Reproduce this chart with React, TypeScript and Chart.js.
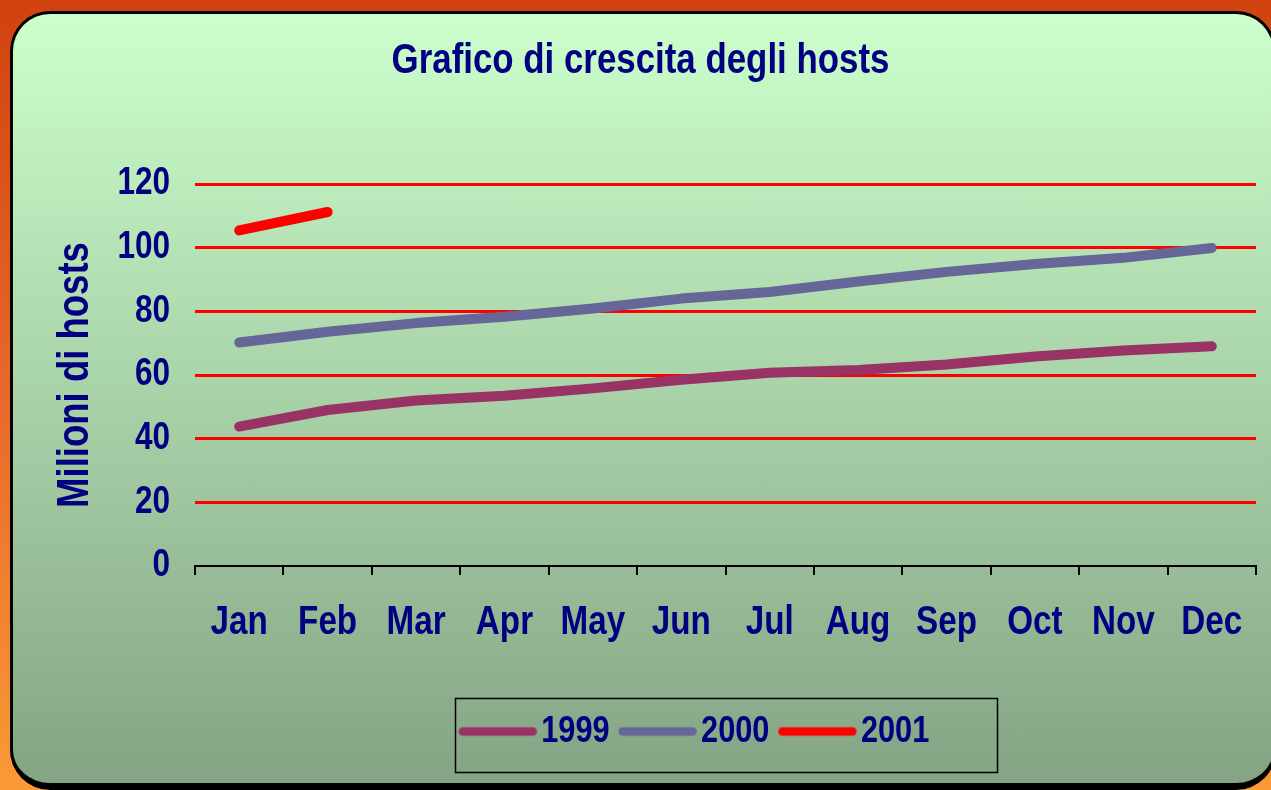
import React, { useEffect, useRef } from "react";
import { Chart, registerables } from "chart.js";

Chart.register(...registerables);

const months = ["Jan", "Feb", "Mar", "Apr", "May", "Jun", "Jul", "Aug", "Sep", "Oct", "Nov", "Dec"];
const hosts1999 = [43.8, 49, 52, 53.5, 55.8, 58.5, 60.7, 61.6, 63.3, 65.8, 67.7, 69];
const hosts2000 = [70.2, 73.6, 76.3, 78.3, 80.9, 84, 86.1, 89.4, 92.4, 94.9, 96.8, 99.9];
const hosts2001 = [105.4, 111.2, null, null, null, null, null, null, null, null, null, null];
const seriesLabels = ["1999", "2000", "2001"];
const seriesColors = ["#993366", "#666699", "#FF0000"];
const yMin = 0;
const yMax = 120;
const yStep = 20;
const titleText = "Grafico di crescita degli hosts";
const yAxisTitle = "Milioni di hosts";

const FONT = '"Liberation Sans", Arial, sans-serif';
const NAVY = "#000080";
const NARROW = 0.83;

// Arial-Narrow-like text: compress every text run horizontally.
function patchCondensed(ctx: any, sx: number) {
  const origFill = ctx.fillText.bind(ctx);
  const origMeasure = ctx.measureText.bind(ctx);
  ctx.fillText = function (text: string, x: number, y: number, maxWidth?: number) {
    ctx.save();
    ctx.translate(x, y);
    ctx.scale(sx, 1);
    if (maxWidth !== undefined && maxWidth !== null) origFill(text, 0, 0, maxWidth / sx);
    else origFill(text, 0, 0);
    ctx.restore();
  };
  ctx.measureText = function (text: string) {
    const m = origMeasure(text);
    return {
      width: m.width * sx,
      actualBoundingBoxAscent: m.actualBoundingBoxAscent,
      actualBoundingBoxDescent: m.actualBoundingBoxDescent,
      actualBoundingBoxLeft: m.actualBoundingBoxLeft * sx,
      actualBoundingBoxRight: m.actualBoundingBoxRight * sx,
      fontBoundingBoxAscent: m.fontBoundingBoxAscent,
      fontBoundingBoxDescent: m.fontBoundingBoxDescent,
    };
  };
}

function makeLegendLine(color: string) {
  const c = document.createElement("canvas");
  c.width = 160;
  c.height = 20;
  const g = c.getContext("2d")!;
  g.strokeStyle = color;
  g.lineWidth = 8.5;
  g.lineCap = "round";
  g.beginPath();
  g.moveTo(52, 10);
  g.lineTo(122, 10);
  g.stroke();
  return c;
}

const framePlugin = {
  id: "legendFrame",
  afterLayout(chart: any) {
    const lg = chart.legend;
    if (!lg) return;
    const half = (lg.right - lg.left) / 2;
    lg.left = 694 - half;
    lg.right = 694 + half;
  },
  afterDraw(chart: any) {
    const ctx = chart.ctx;
    ctx.save();
    ctx.strokeStyle = "#000";
    ctx.lineWidth = 1.5;
    ctx.strokeRect(455.5, 698.5, 542, 74);
    ctx.restore();
  },
};

export default function App() {
  const ref = useRef<HTMLCanvasElement | null>(null);

  useEffect(() => {
    if (!ref.current) return;
    patchCondensed(ref.current.getContext("2d"), NARROW);
    const imgs = seriesColors.map((c) => makeLegendLine(c));
    const defaultGen = (Chart as any).defaults.plugins.legend.labels.generateLabels;
    const chart = new Chart(ref.current, {
      type: "line",
      data: {
        labels: months,
        datasets: [hosts1999, hosts2000, hosts2001].map((d, i) => ({
          label: seriesLabels[i],
          data: d,
          borderColor: seriesColors[i],
          backgroundColor: seriesColors[i],
          borderWidth: 10,
          borderCapStyle: "round",
          borderJoinStyle: "round",
          pointRadius: 0,
          pointHoverRadius: 0,
          tension: 0,
          fill: false,
          spanGaps: false,
        })),
      } as any,
      plugins: [framePlugin],
      options: {
        animation: false,
        responsive: false,
        events: [],
        layout: { padding: { top: 10, left: 25, right: 15, bottom: 30 } },
        plugins: {
          tooltip: { enabled: false },
          title: {
            display: true,
            text: titleText,
            color: NAVY,
            font: { family: FONT, size: 42, weight: "bold" },
            padding: { top: 26, bottom: 97.6 },
          },
          legend: {
            display: true,
            position: "bottom",
            labels: {
              usePointStyle: true,
              pointStyleWidth: 64,
              padding: 9,
              color: NAVY,
              font: { family: FONT, size: 37, weight: "bold" },
              generateLabels: (ch: any) =>
                defaultGen(ch).map((it: any) => ({ ...it, pointStyle: imgs[it.datasetIndex] })),
            },
          },
        },
        scales: {
          x: {
            type: "category",
            offset: true,
            grid: {
              display: true,
              drawOnChartArea: false,
              drawTicks: true,
              tickLength: 9,
              color: "#000",
              lineWidth: 2,
              offset: true,
            },
            border: { display: true, color: "#000", width: 2 },
            ticks: {
              color: NAVY,
              font: { family: FONT, size: 40, weight: "bold" },
              padding: 24,
              maxRotation: 0,
              autoSkip: false,
            },
            afterFit: (s: any) => {
              s.height = 138;
            },
          },
          y: {
            min: yMin,
            max: yMax,
            ticks: {
              stepSize: yStep,
              color: NAVY,
              font: { family: FONT, size: 38, weight: "bold" },
              padding: 25,
            },
            grid: {
              color: (c: any) => (c.tick && c.tick.value === 0 ? "rgba(0,0,0,0)" : "#FF0000"),
              lineWidth: 3,
              drawTicks: false,
            },
            border: { display: false },
            title: {
              display: true,
              text: yAxisTitle,
              color: NAVY,
              font: { family: FONT, size: 44, weight: "bold" },
              padding: { top: 24, bottom: 0 },
            },
            afterFit: (s: any) => {
              s.width = 170;
            },
          },
        },
      } as any,
    });
    return () => chart.destroy();
  }, []);

  return (
    <div
      style={{
        position: "fixed",
        left: 0,
        top: 0,
        width: 1271,
        height: 790,
        overflow: "hidden",
        background: "linear-gradient(to bottom, #D0420F 0%, #E8682A 50%, #FA9A36 100%)",
      }}
    >
      <div
        style={{
          position: "absolute",
          left: 10,
          top: 11,
          width: 1266,
          height: 779,
          boxSizing: "border-box",
          border: "3px solid #000",
          borderBottomWidth: 7,
          borderRadius: 40,
          background: "linear-gradient(to bottom, #CCFFCC 0%, #84A484 100%)",
        }}
      />
      <canvas ref={ref} width={1271} height={790} style={{ position: "absolute", left: 0, top: 0 }} />
    </div>
  );
}
